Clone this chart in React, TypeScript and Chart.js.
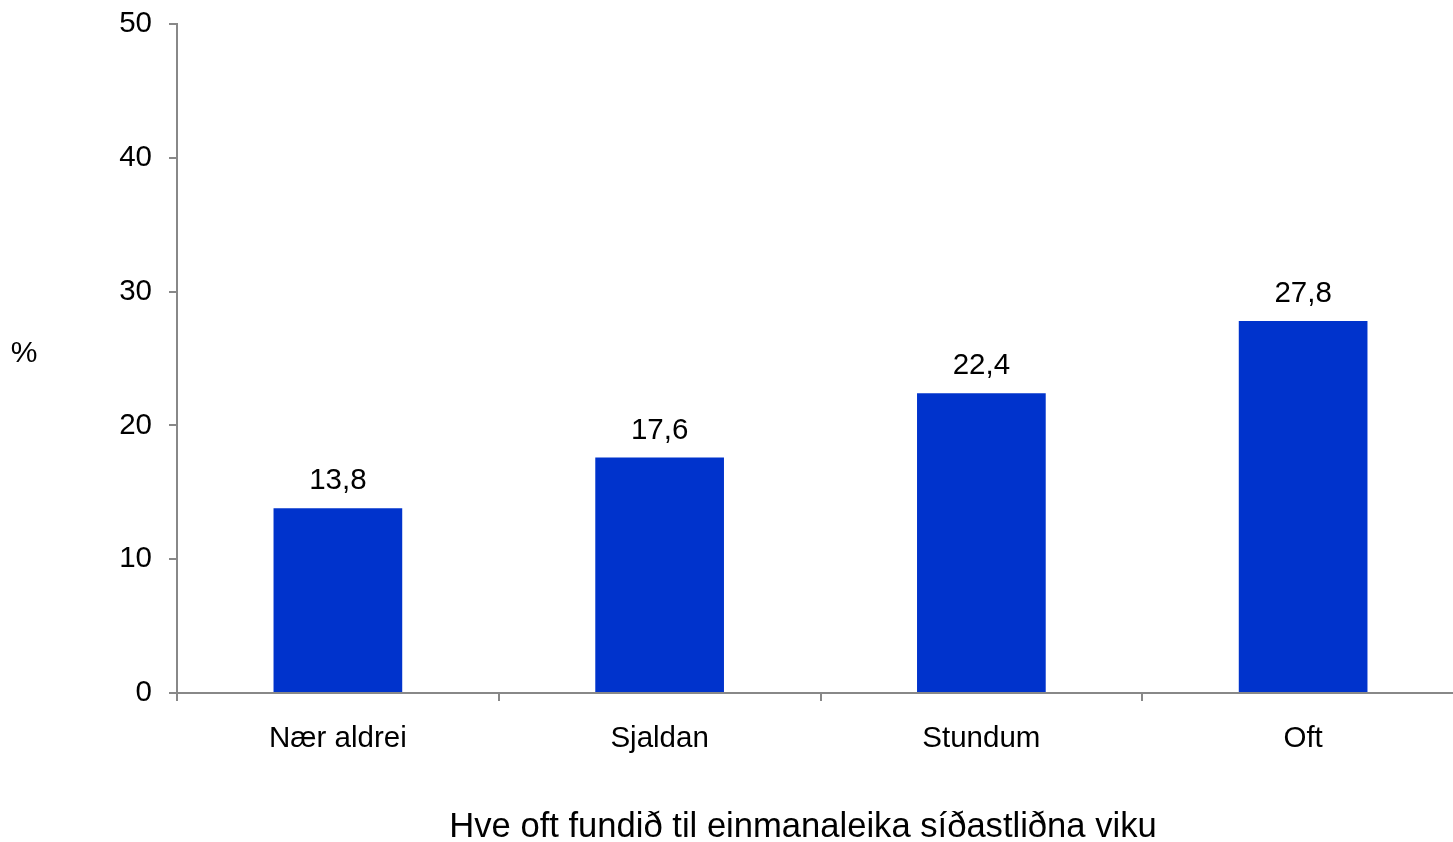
import React, { useEffect, useRef } from "react";
import { Chart, registerables } from "chart.js";

Chart.register(...registerables);

const categories = ["Nær aldrei", "Sjaldan", "Stundum", "Oft"];
const values = [13.8, 17.6, 22.4, 27.8];
const yTicks = [0, 10, 20, 30, 40, 50];
const xTitle = "Hve oft fundið til einmanaleika síðastliðna viku";
const yTitle = "%";

const FONT = "'Liberation Sans', Arial, sans-serif";

export default function App() {
  const ref = useRef<HTMLCanvasElement | null>(null);
  useEffect(() => {
    if (!ref.current) return;
    const labelPlugin = {
      id: "labels",
      afterDraw(chart: any) {
        const ctx = chart.ctx;
        ctx.save();
        ctx.fillStyle = "#000";
        ctx.font = `29.5px ${FONT}`;
        ctx.textAlign = "center";
        ctx.textBaseline = "alphabetic";
        const meta = chart.getDatasetMeta(0);
        meta.data.forEach((bar: any, i: number) => {
          ctx.fillText(values[i].toFixed(1).replace(".", ","), bar.x, bar.y - 19);
        });
        ctx.textBaseline = "middle";
        ctx.font = `30px ${FONT}`;
        ctx.fillText(yTitle, 24, 354);
        ctx.font = `34.6px ${FONT}`;
        ctx.fillText(xTitle, 803, 827);
        ctx.restore();
      },
    };
    const chart = new Chart(ref.current, {
      type: "bar",
      data: {
        labels: categories,
        datasets: [
          {
            data: values,
            backgroundColor: "#0033CC",
            barPercentage: 0.4,
            categoryPercentage: 1,
          },
        ],
      },
      options: {
        animation: false,
        responsive: true,
        maintainAspectRatio: false,
        layout: { padding: { top: 24, right: 0, left: 0, bottom: 0 } },
        plugins: { legend: { display: false }, tooltip: { enabled: false } },
        scales: {
          x: {
            afterFit: (s: any) => {
              s.height = 149;
              s.paddingLeft = 0;
              s.paddingRight = 0;
            },
            grid: {
              display: true,
              drawOnChartArea: false,
              drawTicks: true,
              tickLength: 8,
              color: "#888",
              lineWidth: 2,
              offset: true,
            },
            border: { color: "#888", width: 2 },
            ticks: { color: "#000", font: { size: 29.5, family: FONT }, padding: 20 },
          },
          y: {
            min: 0,
            max: 50,
            afterFit: (s: any) => {
              s.width = 177;
              s.paddingTop = 0;
              s.paddingBottom = 0;
            },
            afterBuildTicks: (s: any) => {
              s.ticks = yTicks.map((v) => ({ value: v }));
            },
            grid: {
              display: true,
              drawOnChartArea: false,
              drawTicks: true,
              tickLength: 8,
              color: "#888",
              lineWidth: 2,
            },
            border: { color: "#888", width: 2 },
            ticks: { color: "#000", font: { size: 29.5, family: FONT }, padding: 17 },
          },
        },
      },
      plugins: [labelPlugin],
    });
    return () => chart.destroy();
  }, []);
  return (
    <div style={{ position: "absolute", left: 0, top: 0, width: 1453, height: 842, overflow: "hidden", background: "#fff" }}>
      <div style={{ position: "relative", width: 1464, height: 842 }}>
        <canvas ref={ref} />
      </div>
    </div>
  );
}
